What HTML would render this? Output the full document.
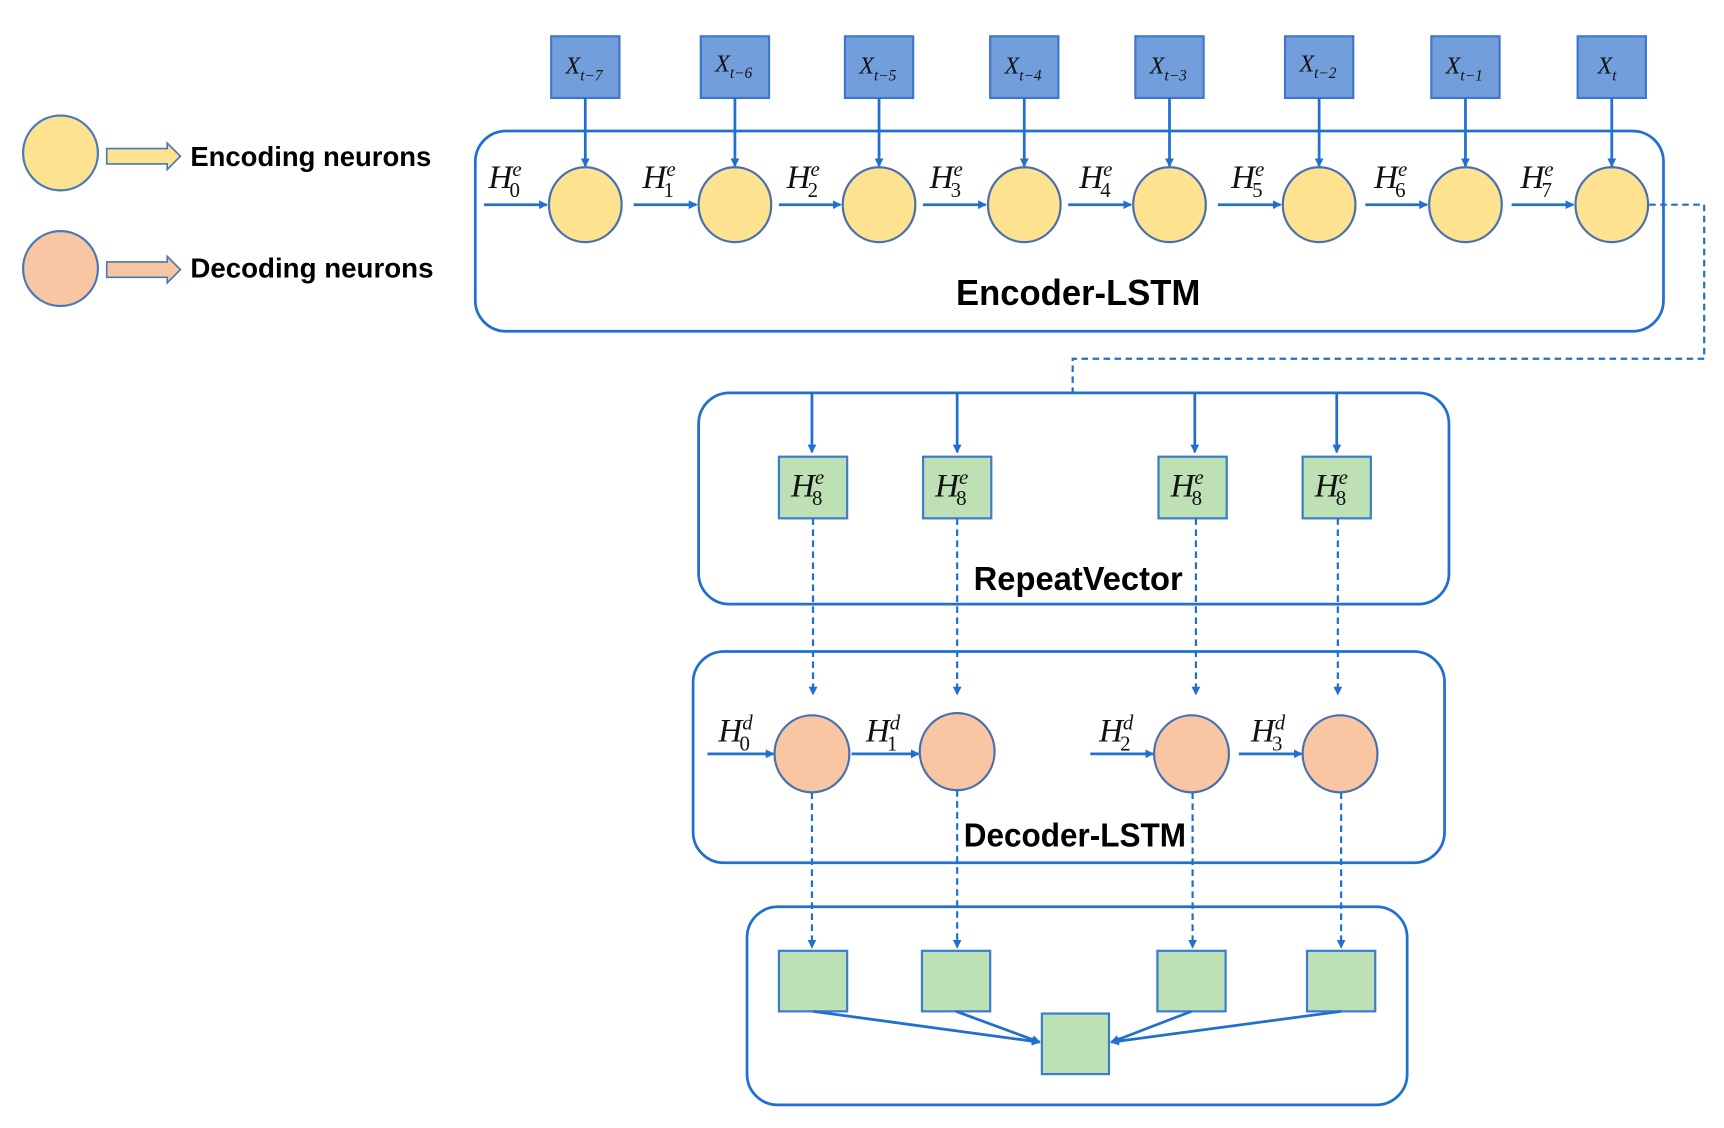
<!DOCTYPE html>
<html><head><meta charset="utf-8"><style>
html,body{margin:0;padding:0;background:#fff;}
svg{display:block;}
.lbl{font-family:"Liberation Serif",serif;font-style:italic;fill:#111;font-size:30px;}
.x{font-family:"Liberation Serif",serif;font-style:italic;fill:#111;font-size:22px;}
.s{font-size:19px;}
.n{font-style:normal;font-size:19px;}
.xs{font-size:14px;}
.b{font-family:"Liberation Sans",sans-serif;font-weight:bold;fill:#000;}
.ln{stroke:#2170d0;stroke-width:2.5;fill:none;}
.dl{stroke:#2170d0;stroke-width:2;stroke-dasharray:6,4;fill:none;}
.xb{fill:#729fdc;stroke:#3f77c8;stroke-width:2;}
.gb{fill:#bde0b4;stroke:#3a7cd0;stroke-width:2;}
.ye{fill:#fde38f;stroke:#4a6fb0;stroke-width:2;}
.or{fill:#f9c6a4;stroke:#4a6fb0;stroke-width:2;}
</style></head><body>
<svg width="1724" height="1128" viewBox="-2 -1 1567 1025" preserveAspectRatio="none" xmlns="http://www.w3.org/2000/svg">
<defs>
<marker id="ar" markerWidth="8" markerHeight="8" refX="7" refY="4" orient="auto" markerUnits="userSpaceOnUse"><path d="M0,0 L8,4 L0,8 Z" fill="#2170d0"/></marker>
</defs>
<g fill="none" stroke="#2170d0" stroke-width="2.5">
<rect x="430" y="118" width="1080" height="182" rx="28"/>
<rect x="633" y="356" width="682" height="192" rx="28"/>
<rect x="628" y="591" width="683" height="192" rx="28"/>
<rect x="677" y="823" width="600" height="180" rx="28"/>
</g>
<ellipse cx="53" cy="138" rx="34" ry="34" fill="#fde38f" stroke="#4a78b8" stroke-width="2"/>
<ellipse cx="53" cy="243" rx="34" ry="34" fill="#f9c6a4" stroke="#4a78b8" stroke-width="2"/>
<path d="M95,134 H150 V129 L162,141 L150,153 V148 H95 Z" fill="#fde38f" stroke="#4a78b8" stroke-width="1.5"/>
<path d="M95,237 H150 V232 L162,244 L150,256 V251 H95 Z" fill="#f9c6a4" stroke="#4a78b8" stroke-width="1.5"/>
<text class="b" x="171" y="150" font-size="25" textLength="219" lengthAdjust="spacingAndGlyphs">Encoding neurons</text>
<text class="b" x="171" y="251" font-size="25" textLength="221" lengthAdjust="spacingAndGlyphs">Decoding neurons</text>

<rect class="xb" x="499" y="32" width="62" height="56"/>
<rect class="xb" x="635" y="32" width="62" height="56"/>
<rect class="xb" x="766" y="32" width="62" height="56"/>
<rect class="xb" x="898" y="32" width="62" height="56"/>
<rect class="xb" x="1030" y="32" width="62" height="56"/>
<rect class="xb" x="1166" y="32" width="62" height="56"/>
<rect class="xb" x="1299" y="32" width="62" height="56"/>
<rect class="xb" x="1432" y="32" width="62" height="56"/>
<text class="x" x="512" y="66">X<tspan class="xs" dy="6">t−7</tspan></text>
<text class="x" x="648" y="64">X<tspan class="xs" dy="6">t−6</tspan></text>
<text class="x" x="779" y="66">X<tspan class="xs" dy="6">t−5</tspan></text>
<text class="x" x="911" y="66">X<tspan class="xs" dy="6">t−4</tspan></text>
<text class="x" x="1043" y="66">X<tspan class="xs" dy="6">t−3</tspan></text>
<text class="x" x="1179" y="64">X<tspan class="xs" dy="6">t−2</tspan></text>
<text class="x" x="1312" y="66">X<tspan class="xs" dy="6">t−1</tspan></text>
<text class="x" x="1450" y="66">X<tspan class="xs" dy="6">t</tspan></text>

<g class="ln" stroke-width="2">
<line x1="530" y1="88" x2="530" y2="150" marker-end="url(#ar)"/>
<line x1="666" y1="88" x2="666" y2="150" marker-end="url(#ar)"/>
<line x1="797" y1="88" x2="797" y2="150" marker-end="url(#ar)"/>
<line x1="929" y1="88" x2="929" y2="150" marker-end="url(#ar)"/>
<line x1="1061" y1="88" x2="1061" y2="150" marker-end="url(#ar)"/>
<line x1="1197" y1="88" x2="1197" y2="150" marker-end="url(#ar)"/>
<line x1="1330" y1="88" x2="1330" y2="150" marker-end="url(#ar)"/>
<line x1="1463" y1="88" x2="1463" y2="150" marker-end="url(#ar)"/>
</g>
<g class="ln">
<line x1="438" y1="185" x2="495" y2="185" marker-end="url(#ar)"/>
<line x1="574" y1="185" x2="631" y2="185" marker-end="url(#ar)"/>
<line x1="706" y1="185" x2="762" y2="185" marker-end="url(#ar)"/>
<line x1="837" y1="185" x2="894" y2="185" marker-end="url(#ar)"/>
<line x1="969" y1="185" x2="1026" y2="185" marker-end="url(#ar)"/>
<line x1="1105" y1="185" x2="1162" y2="185" marker-end="url(#ar)"/>
<line x1="1239" y1="185" x2="1295" y2="185" marker-end="url(#ar)"/>
<line x1="1372" y1="185" x2="1428" y2="185" marker-end="url(#ar)"/>
</g>
<ellipse class="ye" cx="530" cy="185" rx="33" ry="34"/>
<ellipse class="ye" cx="666" cy="185" rx="33" ry="34"/>
<ellipse class="ye" cx="797" cy="185" rx="33" ry="34"/>
<ellipse class="ye" cx="929" cy="185" rx="33" ry="34"/>
<ellipse class="ye" cx="1061" cy="185" rx="33" ry="34"/>
<ellipse class="ye" cx="1197" cy="185" rx="33" ry="34"/>
<ellipse class="ye" cx="1330" cy="185" rx="33" ry="34"/>
<ellipse class="ye" cx="1463" cy="185" rx="33" ry="34"/>
<text class="lbl" x="442" y="170">H<tspan class="s" dy="-11">e</tspan><tspan class="n" dx="-11" dy="19">0</tspan></text>
<text class="lbl" x="582" y="170">H<tspan class="s" dy="-11">e</tspan><tspan class="n" dx="-11" dy="19">1</tspan></text>
<text class="lbl" x="713" y="170">H<tspan class="s" dy="-11">e</tspan><tspan class="n" dx="-11" dy="19">2</tspan></text>
<text class="lbl" x="843" y="170">H<tspan class="s" dy="-11">e</tspan><tspan class="n" dx="-11" dy="19">3</tspan></text>
<text class="lbl" x="979" y="170">H<tspan class="s" dy="-11">e</tspan><tspan class="n" dx="-11" dy="19">4</tspan></text>
<text class="lbl" x="1117" y="170">H<tspan class="s" dy="-11">e</tspan><tspan class="n" dx="-11" dy="19">5</tspan></text>
<text class="lbl" x="1247" y="170">H<tspan class="s" dy="-11">e</tspan><tspan class="n" dx="-11" dy="19">6</tspan></text>
<text class="lbl" x="1380" y="170">H<tspan class="s" dy="-11">e</tspan><tspan class="n" dx="-11" dy="19">7</tspan></text>

<text class="b" x="978" y="276" font-size="33" text-anchor="middle" textLength="222" lengthAdjust="spacingAndGlyphs">Encoder-LSTM</text>
<text class="b" x="978" y="535" font-size="30" text-anchor="middle" textLength="190" lengthAdjust="spacingAndGlyphs">RepeatVector</text>
<text class="b" x="975" y="768" font-size="30" text-anchor="middle" textLength="202" lengthAdjust="spacingAndGlyphs">Decoder-LSTM</text>

<path class="dl" d="M1497,185 H1547 V325 H973 V355"/>

<g class="ln" stroke-width="2">
<line x1="736" y1="356" x2="736" y2="410" marker-end="url(#ar)"/>
<line x1="868" y1="356" x2="868" y2="410" marker-end="url(#ar)"/>
<line x1="1084" y1="356" x2="1084" y2="410" marker-end="url(#ar)"/>
<line x1="1213" y1="356" x2="1213" y2="410" marker-end="url(#ar)"/>
</g>
<rect class="gb" x="706" y="414" width="62" height="56"/>
<rect class="gb" x="837" y="414" width="62" height="56"/>
<rect class="gb" x="1051" y="414" width="62" height="56"/>
<rect class="gb" x="1182" y="414" width="62" height="56"/>
<text class="lbl" x="717" y="450">H<tspan class="s" dy="-11">e</tspan><tspan class="n" dx="-11" dy="19">8</tspan></text>
<text class="lbl" x="848" y="450">H<tspan class="s" dy="-11">e</tspan><tspan class="n" dx="-11" dy="19">8</tspan></text>
<text class="lbl" x="1062" y="450">H<tspan class="s" dy="-11">e</tspan><tspan class="n" dx="-11" dy="19">8</tspan></text>
<text class="lbl" x="1193" y="450">H<tspan class="s" dy="-11">e</tspan><tspan class="n" dx="-11" dy="19">8</tspan></text>
<g class="dl">
<line x1="737" y1="470" x2="737" y2="630" marker-end="url(#ar)"/>
<line x1="868" y1="470" x2="868" y2="630" marker-end="url(#ar)"/>
<line x1="1085" y1="470" x2="1085" y2="630" marker-end="url(#ar)"/>
<line x1="1214" y1="470" x2="1214" y2="630" marker-end="url(#ar)"/>
</g>

<g class="ln">
<line x1="641" y1="684" x2="701" y2="684" marker-end="url(#ar)"/>
<line x1="772" y1="684" x2="833" y2="684" marker-end="url(#ar)"/>
<line x1="989" y1="684" x2="1046" y2="684" marker-end="url(#ar)"/>
<line x1="1124" y1="684" x2="1181" y2="684" marker-end="url(#ar)"/>
</g>
<ellipse class="or" cx="736" cy="684" rx="34" ry="35"/>
<ellipse class="or" cx="868" cy="682" rx="34" ry="35"/>
<ellipse class="or" cx="1081" cy="684" rx="34" ry="35"/>
<ellipse class="or" cx="1216" cy="684" rx="34" ry="35"/>
<text class="lbl" x="651" y="673">H<tspan class="s" dy="-11">d</tspan><tspan class="n" dx="-12" dy="19">0</tspan></text>
<text class="lbl" x="785" y="673">H<tspan class="s" dy="-11">d</tspan><tspan class="n" dx="-12" dy="19">1</tspan></text>
<text class="lbl" x="997" y="673">H<tspan class="s" dy="-11">d</tspan><tspan class="n" dx="-12" dy="19">2</tspan></text>
<text class="lbl" x="1135" y="673">H<tspan class="s" dy="-11">d</tspan><tspan class="n" dx="-12" dy="19">3</tspan></text>
<g class="dl">
<line x1="736" y1="719" x2="736" y2="860" marker-end="url(#ar)"/>
<line x1="868" y1="717" x2="868" y2="860" marker-end="url(#ar)"/>
<line x1="1082" y1="719" x2="1082" y2="860" marker-end="url(#ar)"/>
<line x1="1217" y1="719" x2="1217" y2="860" marker-end="url(#ar)"/>
</g>

<rect class="gb" x="706" y="863" width="62" height="55"/>
<rect class="gb" x="836" y="863" width="62" height="55"/>
<rect class="gb" x="1050" y="863" width="62" height="55"/>
<rect class="gb" x="1186" y="863" width="62" height="55"/>
<g class="ln">
<line x1="737" y1="918" x2="943" y2="946" marker-end="url(#ar)"/>
<line x1="867" y1="918" x2="943" y2="946" marker-end="url(#ar)"/>
<line x1="1081" y1="918" x2="1008" y2="946" marker-end="url(#ar)"/>
<line x1="1217" y1="918" x2="1008" y2="946" marker-end="url(#ar)"/>
</g>
<rect class="gb" x="945" y="920" width="61" height="55"/>
</svg>
</body></html>
